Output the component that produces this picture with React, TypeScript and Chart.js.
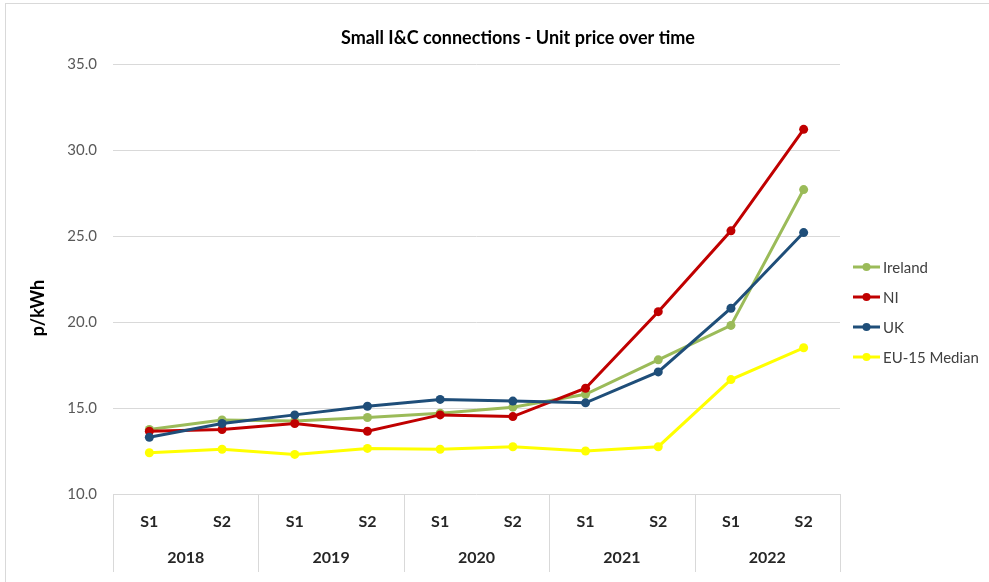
import React, { useEffect, useRef } from "react";
import { Chart, registerables } from "chart.js";

Chart.register(...registerables);

const halfLabels = ["S1", "S2", "S1", "S2", "S1", "S2", "S1", "S2", "S1", "S2"];
const years = ["2018", "2019", "2020", "2021", "2022"];
const ireland = [13.75, 14.3, 14.25, 14.45, 14.7, 15.05, 15.8, 17.8, 19.8, 27.7];
const ni = [13.65, 13.75, 14.1, 13.65, 14.6, 14.5, 16.15, 20.6, 25.3, 31.2];
const uk = [13.3, 14.1, 14.6, 15.1, 15.5, 15.4, 15.3, 17.1, 20.8, 25.2];
const eu15 = [12.4, 12.6, 12.3, 12.65, 12.6, 12.75, 12.5, 12.75, 16.65, 18.5];
const seriesNames = ["Ireland", "NI", "UK", "EU-15 Median"];
const seriesColors = ["#9BBB59", "#C00000", "#1F4E79", "#FFFF00"];
const yTicks = [10, 15, 20, 25, 30, 35];

const FONT = "Lato, 'Open Sans', sans-serif";
const chartTitle = "Small I&C connections - Unit price over time";
const yTitle = "p/kWh";

export default function App() {
  const ref = useRef<HTMLCanvasElement | null>(null);

  useEffect(() => {
    if (!ref.current) return;
    const overlay = {
      id: "overlay",
      afterDraw(chart: any) {
        const { ctx, chartArea } = chart;
        const x = chart.scales.x;
        ctx.save();
        // title
        ctx.fillStyle = "#000000";
        ctx.font = `bold 18px ${FONT}`;
        ctx.textAlign = "center";
        ctx.textBaseline = "middle";
        ctx.fillText(chartTitle, 518, 38);
        // y title
        ctx.save();
        ctx.translate(38, 308);
        ctx.rotate(-Math.PI / 2);
        ctx.font = `bold 18px ${FONT}`;
        ctx.fillStyle = "#000000";
        ctx.fillText(yTitle, 0, 0);
        ctx.restore();
        // x category table
        const n = halfLabels.length;
        const step = x.getPixelForValue(1) - x.getPixelForValue(0);
        ctx.strokeStyle = "#D9D9D9";
        ctx.lineWidth = 1;
        for (let k = 0; k <= years.length; k++) {
          const idx = k * 2;
          const px = Math.round(
            idx < n ? x.getPixelForValue(idx) - step / 2 : x.getPixelForValue(n - 1) + step / 2
          ) + 0.5;
          ctx.beginPath();
          ctx.moveTo(px, chartArea.bottom);
          ctx.lineTo(px, chartArea.bottom + 78);
          ctx.stroke();
        }
        ctx.fillStyle = "#262626";
        ctx.font = `bold 16px ${FONT}`;
        years.forEach((yr, k) => {
          const cx = (x.getPixelForValue(2 * k) + x.getPixelForValue(2 * k + 1)) / 2;
          ctx.fillText(yr, cx, 558);
        });
        // legend
        ctx.textAlign = "left";
        ctx.font = `15px ${FONT}`;
        seriesNames.forEach((name, i) => {
          const ly = 267 + i * 30;
          ctx.strokeStyle = seriesColors[i];
          ctx.lineWidth = 3;
          ctx.beginPath();
          ctx.moveTo(853, ly);
          ctx.lineTo(880, ly);
          ctx.stroke();
          ctx.fillStyle = seriesColors[i];
          ctx.beginPath();
          ctx.arc(866.5, ly, 4, 0, Math.PI * 2);
          ctx.fill();
          ctx.fillStyle = "#404040";
          ctx.fillText(name, 883, ly + 1);
        });
        ctx.restore();
      },
    };

    const mk = (i: number, data: number[], order: number) => ({
      label: seriesNames[i],
      data,
      borderColor: seriesColors[i],
      backgroundColor: seriesColors[i],
      borderWidth: 3,
      pointRadius: 4.5,
      pointHoverRadius: 4.5,
      pointBorderWidth: 0,
      tension: 0,
      order,
    });

    const chart = new Chart(ref.current, {
      type: "line",
      data: {
        labels: halfLabels,
        datasets: [mk(0, ireland, 4), mk(1, ni, 3), mk(2, uk, 2), mk(3, eu15, 1)],
      },
      options: {
        animation: false,
        responsive: false,
        layout: { padding: { left: 8, right: 149, top: 64, bottom: 8 } },
        plugins: { legend: { display: false }, title: { display: false }, tooltip: { enabled: false } },
        scales: {
          x: {
            type: "category",
            offset: true,
            grid: { display: false, drawTicks: false },
            border: { display: false },
            ticks: {
              color: "#262626",
              font: { family: FONT, size: 16, weight: "bold" },
              padding: 18,
              maxRotation: 0,
              autoSkip: false,
            },
            afterFit: (s: any) => {
              s.height = 80;
            },
          },
          y: {
            min: 10,
            max: 35,
            afterBuildTicks: (s: any) => {
              s.ticks = yTicks.map((v) => ({ value: v }));
            },
            grid: { color: "#D9D9D9", lineWidth: 1, drawTicks: false },
            border: { display: false },
            ticks: {
              color: "#595959",
              font: { family: FONT, size: 15 },
              padding: 16,
              callback: (v: any) => Number(v).toFixed(1),
            },
            afterFit: (s: any) => {
              s.width = 105;
            },
          },
        },
      },
      plugins: [overlay],
    });
    return () => chart.destroy();
  }, []);

  return (
    <div style={{ position: "absolute", left: 0, top: 0, width: 989, height: 582, background: "#fff" }}>
      <div style={{ position: "absolute", left: 5, top: 3, width: 984, height: 579, borderLeft: "1px solid #D9D9D9", borderTop: "1px solid #D9D9D9" }} />
      <canvas ref={ref} width={989} height={582} style={{ position: "absolute", left: 0, top: 0 }} />
    </div>
  );
}
